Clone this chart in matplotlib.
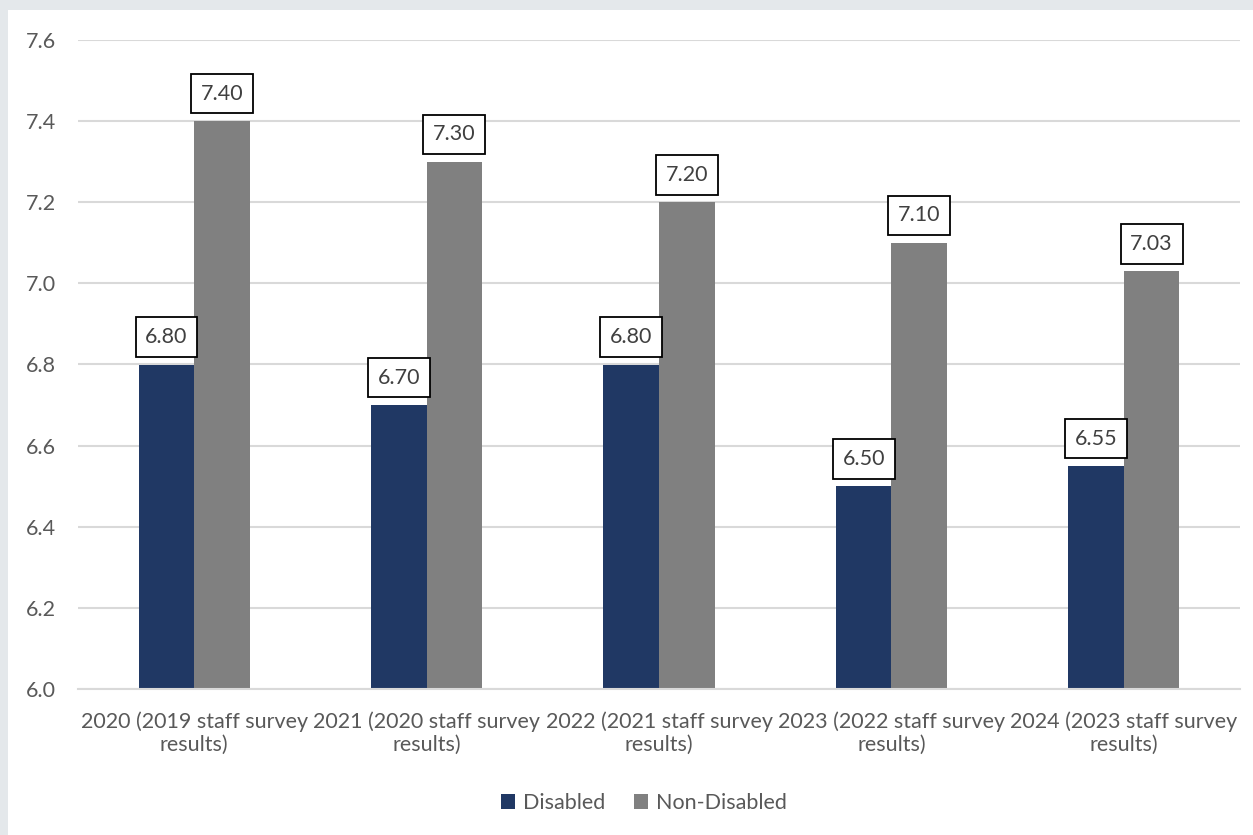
import matplotlib.pyplot as plt
import numpy as np

categories = [
    "2020 (2019 staff survey\nresults)",
    "2021 (2020 staff survey\nresults)",
    "2022 (2021 staff survey\nresults)",
    "2023 (2022 staff survey\nresults)",
    "2024 (2023 staff survey\nresults)",
]
disabled = [6.80, 6.70, 6.80, 6.50, 6.55]
non_disabled = [7.40, 7.30, 7.20, 7.10, 7.03]

plt.rcParams['font.family'] = ['Lato', 'DejaVu Sans']
text_color = '#595959'
fs = 15.5

fig = plt.figure(figsize=(12.53, 8.35), dpi=100)
fig.patch.set_facecolor('#E4E8EB')
# white panel behind the chart
fig.add_artist(plt.Rectangle((8 / 1253, 0), 1, 1 - 10 / 835, transform=fig.transFigure,
                             facecolor='white', edgecolor='none', zorder=0))

ax = fig.add_axes([78 / 1253, 1 - 689 / 835, (1240 - 78) / 1253, (689 - 40) / 835])
ax.set_facecolor('none')

x = np.arange(len(categories))
w = 0.239
b1 = ax.bar(x - w / 2, disabled, w, color='#203864', label='Disabled', zorder=2)
b2 = ax.bar(x + w / 2, non_disabled, w, color='#808080', label='Non-Disabled', zorder=2)

for bars, vals in ((b1, disabled), (b2, non_disabled)):
    for rect, v in zip(bars, vals):
        ax.annotate(f"{v:.2f}", (rect.get_x() + rect.get_width() / 2, v),
                    xytext=(0, 12.5), textcoords='offset points', ha='center', va='bottom',
                    fontsize=fs, color='#404040', zorder=3,
                    bbox=dict(boxstyle='square,pad=0.45', facecolor='white',
                              edgecolor='black', linewidth=1.3))

ax.set_xlim(-0.5, len(categories) - 0.5)
ax.set_ylim(6.0, 7.6)
ax.set_yticks(np.arange(6.0, 7.61, 0.2))
ax.set_yticklabels([f"{t:.1f}" for t in np.arange(6.0, 7.61, 0.2)])
ax.set_xticks(x)
ax.set_xticklabels(categories, linespacing=1.2)
ax.tick_params(axis='both', length=0, labelsize=fs, labelcolor=text_color)
ax.tick_params(axis='y', pad=16)
ax.tick_params(axis='x', pad=16)
ax.grid(axis='y', color='#D9D9D9', linewidth=1.5, zorder=0)
for s in ['top', 'right', 'left']:
    ax.spines[s].set_visible(False)
ax.spines['bottom'].set_color('#D9D9D9')
ax.spines['bottom'].set_linewidth(1.5)

fig.legend(loc='center', bbox_to_anchor=(644 / 1253, 1 - 803 / 835), ncol=2, frameon=False,
           fontsize=fs, labelcolor=text_color, handlelength=0.65, handleheight=0.65,
           handletextpad=0.4, columnspacing=1.3)

fig.savefig('out.png', dpi=100)
